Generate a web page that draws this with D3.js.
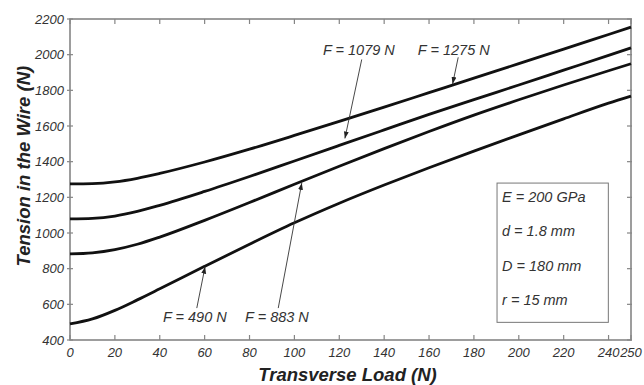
<!DOCTYPE html>
<html>
<head>
<meta charset="utf-8">
<script src="https://cdn.jsdelivr.net/npm/d3@7"></script>
<style>
  body { margin: 0; background: #fff; }
  svg { font-family: "Liberation Sans", Arial, sans-serif; }
  .tick-label { font-style: italic; font-size: 13px; fill: #333; }
  .axis-title { font-style: italic; font-weight: bold; font-size: 18.5px; fill: #222; }
  .note { font-style: italic; font-size: 14.5px; fill: #333; }
</style>
</head>
<body>
<svg id="chart" width="644" height="385"></svg>
<script>
// transverse load (N)
var loads = [0, 10, 20, 30, 40, 60, 80, 100, 120, 140, 160, 180, 200, 220, 240, 250];

// tension in the wire (N), one list per pretension F
var tensionF1275 = [1275, 1277, 1287, 1307, 1334, 1398, 1470, 1547, 1626, 1706, 1787, 1868, 1950, 2031, 2113, 2154];
var tensionF1079 = [1079, 1082, 1095, 1121, 1155, 1233, 1317, 1404, 1491, 1578, 1665, 1748, 1830, 1913, 1996, 2038];
var tensionF883 = [883, 889, 907, 937, 977, 1071, 1171, 1273, 1374, 1473, 1569, 1661, 1747, 1830, 1910, 1949];
var tensionF490 = [490, 518, 566, 625, 687, 813, 937, 1057, 1167, 1269, 1366, 1459, 1550, 1640, 1728, 1768];

var xTicks = [0, 20, 40, 60, 80, 100, 120, 140, 160, 180, 200, 220, 240, 250];
var yTicks = [400, 600, 800, 1000, 1200, 1400, 1600, 1800, 2000, 2200];

// annotations: label position and arrow (from -> tip) in data units
var labels = [
  { text: "F = 1079 N", x: 112.7, y: 1997, x1: 130, y1: 1973, x2: 122.5, y2: 1530 },
  { text: "F = 1275 N", x: 155, y: 1997, x1: 173, y1: 1985, x2: 170.5, y2: 1836 },
  { text: "F = 490 N", x: 41.4, y: 502, x1: 56.5, y1: 579, x2: 60.2, y2: 811 },
  { text: "F = 883 N", x: 78, y: 502, x1: 92.8, y1: 579, x2: 103.3, y2: 1281 }
];

var params = ["E = 200 GPa", "d = 1.8 mm", "D = 180 mm", "r = 15 mm"];

var svg = d3.select("#chart"),
  margin = { top: 19, right: 13, bottom: 45, left: 70 },
  width = +svg.attr("width") - margin.left - margin.right,
  height = +svg.attr("height") - margin.top - margin.bottom;

var x = d3.scaleLinear().domain([0, 250]).range([0, width]),
  y = d3.scaleLinear().domain([400, 2200]).range([height, 0]);

var g = svg.append("g")
  .attr("transform", "translate(" + margin.left + "," + margin.top + ")");

svg.append("defs").append("marker")
  .attr("id", "head")
  .attr("viewBox", "0 0 10 10")
  .attr("refX", 10).attr("refY", 5)
  .attr("markerWidth", 7).attr("markerHeight", 7)
  .attr("markerUnits", "userSpaceOnUse")
  .attr("orient", "auto")
  .append("path")
  .attr("d", "M0,1.5L10,5L0,8.5Z")
  .attr("fill", "#222");

// frame
var axisColor = "#858585";
g.append("rect")
  .attr("x", 0).attr("y", 0)
  .attr("width", width).attr("height", height)
  .attr("fill", "none")
  .attr("stroke", axisColor)
  .attr("stroke-width", 1.6);

// ticks
g.selectAll(".xt-b").data(xTicks).enter().append("line")
  .attr("x1", function (d) { return x(d); }).attr("x2", function (d) { return x(d); })
  .attr("y1", height).attr("y2", height - 5)
  .attr("stroke", axisColor).attr("stroke-width", 1.2);
g.selectAll(".xt-t").data(xTicks).enter().append("line")
  .attr("x1", function (d) { return x(d); }).attr("x2", function (d) { return x(d); })
  .attr("y1", 0).attr("y2", 5)
  .attr("stroke", axisColor).attr("stroke-width", 1.2);
g.selectAll(".yt-l").data(yTicks).enter().append("line")
  .attr("x1", -3).attr("x2", 3)
  .attr("y1", function (d) { return y(d); }).attr("y2", function (d) { return y(d); })
  .attr("stroke", axisColor).attr("stroke-width", 1.2);
g.selectAll(".yt-r").data(yTicks).enter().append("line")
  .attr("x1", width - 4).attr("x2", width + 1)
  .attr("y1", function (d) { return y(d); }).attr("y2", function (d) { return y(d); })
  .attr("stroke", axisColor).attr("stroke-width", 1.2);

// tick labels
g.selectAll(".xl").data(xTicks).enter().append("text")
  .attr("class", "tick-label")
  .attr("x", function (d) { return x(d); })
  .attr("y", height + 17)
  .attr("text-anchor", "middle")
  .text(function (d) { return d; });
g.selectAll(".yl").data(yTicks).enter().append("text")
  .attr("class", "tick-label")
  .attr("x", -6)
  .attr("y", function (d) { return y(d); })
  .attr("dy", "0.35em")
  .attr("text-anchor", "end")
  .text(function (d) { return d; });

// axis titles
svg.append("text")
  .attr("class", "axis-title")
  .attr("x", margin.left + x(125) - 3)
  .attr("y", 381)
  .attr("text-anchor", "middle")
  .text("Transverse Load (N)");
svg.append("text")
  .attr("class", "axis-title")
  .attr("transform", "translate(30," + (margin.top + y(1375)) + ") rotate(-90)")
  .attr("text-anchor", "middle")
  .text("Tension in the Wire (N)");

// curves
var line = d3.line()
  .x(function (d) { return x(d[0]); })
  .y(function (d) { return y(d[1]); })
  .curve(d3.curveMonotoneX);

[tensionF1275, tensionF1079, tensionF883, tensionF490].forEach(function (s) {
  g.append("path")
    .datum(loads.map(function (l, i) { return [l, s[i]]; }))
    .attr("fill", "none")
    .attr("stroke", "#111")
    .attr("stroke-width", 2.8)
    .attr("d", line);
});

// annotations
labels.forEach(function (d) {
  g.append("line")
    .attr("x1", x(d.x1)).attr("y1", y(d.y1))
    .attr("x2", x(d.x2)).attr("y2", y(d.y2))
    .attr("stroke", "#333")
    .attr("stroke-width", 0.9)
    .attr("marker-end", "url(#head)");
  g.append("text")
    .attr("class", "note")
    .attr("x", x(d.x)).attr("y", y(d.y))
    .text(d.text);
});

// parameter box
var box = { x0: 190.3, x1: 239.9, y0: 1280, y1: 499 };
g.append("rect")
  .attr("x", x(box.x0)).attr("y", y(box.y0))
  .attr("width", x(box.x1) - x(box.x0))
  .attr("height", y(box.y1) - y(box.y0))
  .attr("fill", "#fff")
  .attr("stroke", "#777")
  .attr("stroke-width", 1);
g.selectAll(".param").data(params).enter().append("text")
  .attr("class", "note")
  .attr("x", x(box.x0) + 5)
  .attr("y", function (d, i) { return y(box.y0) + 19 + i * 34.3; })
  .text(function (d) { return d; });
</script>
</body>
</html>
